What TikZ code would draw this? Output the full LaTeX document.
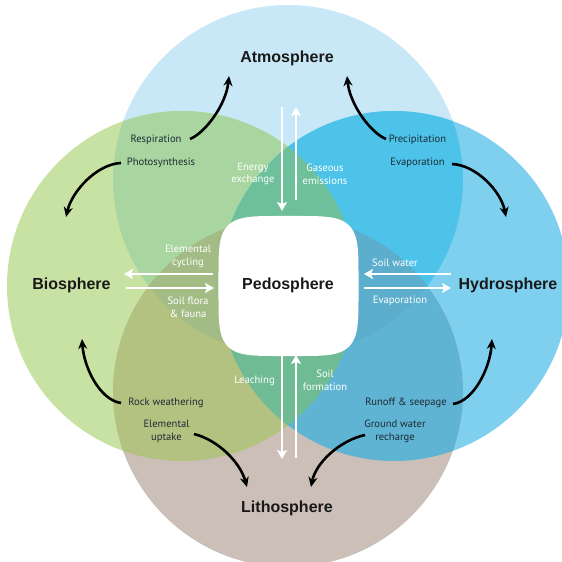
\documentclass[tikz,border=0pt]{standalone}
\usepackage{fontspec}
\setmainfont{PT Sans}
\newfontfamily\lblfont{PT Sans}
\newfontfamily\ttlfont{Liberation Sans}
\usetikzlibrary{arrows.meta}
\definecolor{cT}{HTML}{C9E8F7}
\definecolor{cL}{HTML}{C8E2A3}
\definecolor{cR}{HTML}{7FD0EE}
\definecolor{cB}{HTML}{CBBFB7}
\definecolor{cTL}{HTML}{A9D6A0}
\definecolor{cTR}{HTML}{4DC3EA}
\definecolor{cLB}{HTML}{B3C281}
\definecolor{cRB}{HTML}{5FB3D3}
\definecolor{cTLR}{HTML}{6EC09A}
\definecolor{cLRB}{HTML}{6FBB94}
\definecolor{cTLB}{HTML}{A3BC86}
\definecolor{cTRB}{HTML}{5DADCC}
\definecolor{lbc}{HTML}{1D2B33}
\newcommand\ciT{\clip (288,180) circle[radius=175pt];}
\newcommand\ciL{\clip (182,286) circle[radius=175pt];}
\newcommand\ciR{\clip (394,286) circle[radius=175pt];}
\newcommand\ciB{\clip (288,392) circle[radius=175pt];}
\begin{document}
\begin{tikzpicture}[x=1pt,y=-1pt,
  ttl/.style={font=\ttlfont\bfseries\fontsize{16}{18}\selectfont, text=black!90, inner sep=0pt},
  lbl/.style={font=\lblfont\fontsize{10.6}{12.8}\selectfont, text=lbc, align=center, inner sep=0pt},
  wl/.style={lbl, text=white},
  blk/.style={line width=2.6pt, draw=black, -{Stealth[length=10pt,width=9pt]}},
  wht/.style={line width=2.4pt, draw=white, -{Stealth[length=9pt,width=10pt,inset=2pt]}}]
\useasboundingbox (0,0) rectangle (562,562);
\clip (0,0) rectangle (562,562);
\fill[white] (0,0) rectangle (562,562);
% single circles
\fill[cT] (288,180) circle[radius=175pt];
\fill[cL] (182,286) circle[radius=175pt];
\fill[cR] (394,286) circle[radius=175pt];
\fill[cB] (288,392) circle[radius=175pt];
% pairs
\begin{scope}\ciT \fill[cTL] (182,286) circle[radius=175pt];\end{scope}
\begin{scope}\ciT \fill[cTR] (394,286) circle[radius=175pt];\end{scope}
\begin{scope}\ciB \fill[cLB] (182,286) circle[radius=175pt];\end{scope}
\begin{scope}\ciB \fill[cRB] (394,286) circle[radius=175pt];\end{scope}
% triples
\begin{scope}\ciT\ciL \fill[cTLR] (394,286) circle[radius=175pt];\end{scope}
\begin{scope}\ciB\ciL \fill[cLRB] (394,286) circle[radius=175pt];\end{scope}
\begin{scope}\ciT\ciL \fill[cTLB] (288,392) circle[radius=175pt];\end{scope}
\begin{scope}\ciT\ciR \fill[cTRB] (288,392) circle[radius=175pt];\end{scope}
% central white squircle
\fill[white] plot[domain=1:361, samples=181, variable=\t]
  ({288.5+70*sign(cos(\t))*abs(cos(\t))^0.42}, {286+70*sign(sin(\t))*abs(sin(\t))^0.42}) -- cycle;

% titles
\node[ttl] (atm) at (287,58.5) {Atmosphere};
\node[ttl] (bio) at (71.5,285) {Biosphere};
\node[ttl] (hyd) at (508,285) {Hydrosphere};
\node[ttl] (lith) at (287,508) {Lithosphere};
\node[ttl] (ped) at (288,285) {Pedosphere};

% dark labels
\node[lbl] (resp) at (156,140) {Respiration};
\node[lbl] (photo) at (161,163) {Photosynthesis};
\node[lbl] (precip) at (417.5,140) {Precipitation};
\node[lbl] (evapA) at (417.5,163) {Evaporation};
\node[lbl] (rock) at (166,403) {Rock weathering};
\node[lbl] (uptake) at (166.5,431) {Elemental\\uptake};
\node[lbl] (runoff) at (406,403) {Runoff \& seepage};
\node[lbl] (ground) at (395,431) {Ground water\\recharge};

% white labels
\node[wl] (energy) at (253,174) {Energy\\exchange};
\node[wl] (gas) at (325,174) {Gaseous\\emissions};
\node[wl] (elcyc) at (188,256.5) {Elemental\\cycling};
\node[wl] (flora) at (188,307.5) {Soil flora\\\& fauna};
\node[wl] (soilw) at (395,263) {Soil water};
\node[wl] (evapB) at (400,301) {Evaporation};
\node[wl] (leach) at (254.5,380.5) {Leaching};
\node[wl] (soilf) at (325,380.5) {Soil\\formation};

% arrow end coordinates
\coordinate (a1s) at (190,139);  \coordinate (a1e) at (229,76);
\coordinate (a2s) at (386,139);  \coordinate (a2e) at (347,76);
\coordinate (a3s) at (121,163);  \coordinate (a3e) at (66,217);
\coordinate (a4s) at (452,164);  \coordinate (a4e) at (506,217);
\coordinate (a5s) at (121,403);  \coordinate (a5e) at (82,339);
\coordinate (a6s) at (453,404);  \coordinate (a6e) at (492,339);
\coordinate (a7s) at (194,434);  \coordinate (a7e) at (247,487);
\coordinate (a8s) at (365,435);  \coordinate (a8e) at (311,487);

\draw[blk] (a1s) .. controls (205,133) and (226,105) .. (a1e);
\draw[blk] (a2s) .. controls (371,133) and (350,105) .. (a2e);
\draw[blk] (a3s) .. controls (97,164) and (72,191) .. (a3e);
\draw[blk] (a4s) .. controls (476,165) and (501,191) .. (a4e);
\draw[blk] (a5s) .. controls (100,400) and (84,368) .. (a5e);
\draw[blk] (a6s) .. controls (474,401) and (490,368) .. (a6e);
\draw[blk] (a7s) .. controls (218,440) and (240,462) .. (a7e);
\draw[blk] (a8s) .. controls (341,440) and (316,462) .. (a8e);

% white straight arrows
\coordinate (v1s) at (282,107); \coordinate (v1e) at (282,211);
\coordinate (v2s) at (296,200); \coordinate (v2e) at (296,107);
\coordinate (v3s) at (282,355); \coordinate (v3e) at (282,459);
\coordinate (v4s) at (296,458); \coordinate (v4e) at (296,355);
\coordinate (h1s) at (213,274); \coordinate (h1e) at (124,274);
\coordinate (h2s) at (126,288); \coordinate (h2e) at (214,288);
\coordinate (h3s) at (451,274); \coordinate (h3e) at (364,274);
\coordinate (h4s) at (364,288); \coordinate (h4e) at (451,288);
\draw[wht] (v1s) -- (v1e);
\draw[wht] (v2s) -- (v2e);
\draw[wht] (v3s) -- (v3e);
\draw[wht] (v4s) -- (v4e);
\draw[wht] (h1s) -- (h1e);
\draw[wht] (h2s) -- (h2e);
\draw[wht] (h3s) -- (h3e);
\draw[wht] (h4s) -- (h4e);
\end{tikzpicture}
\end{document}
